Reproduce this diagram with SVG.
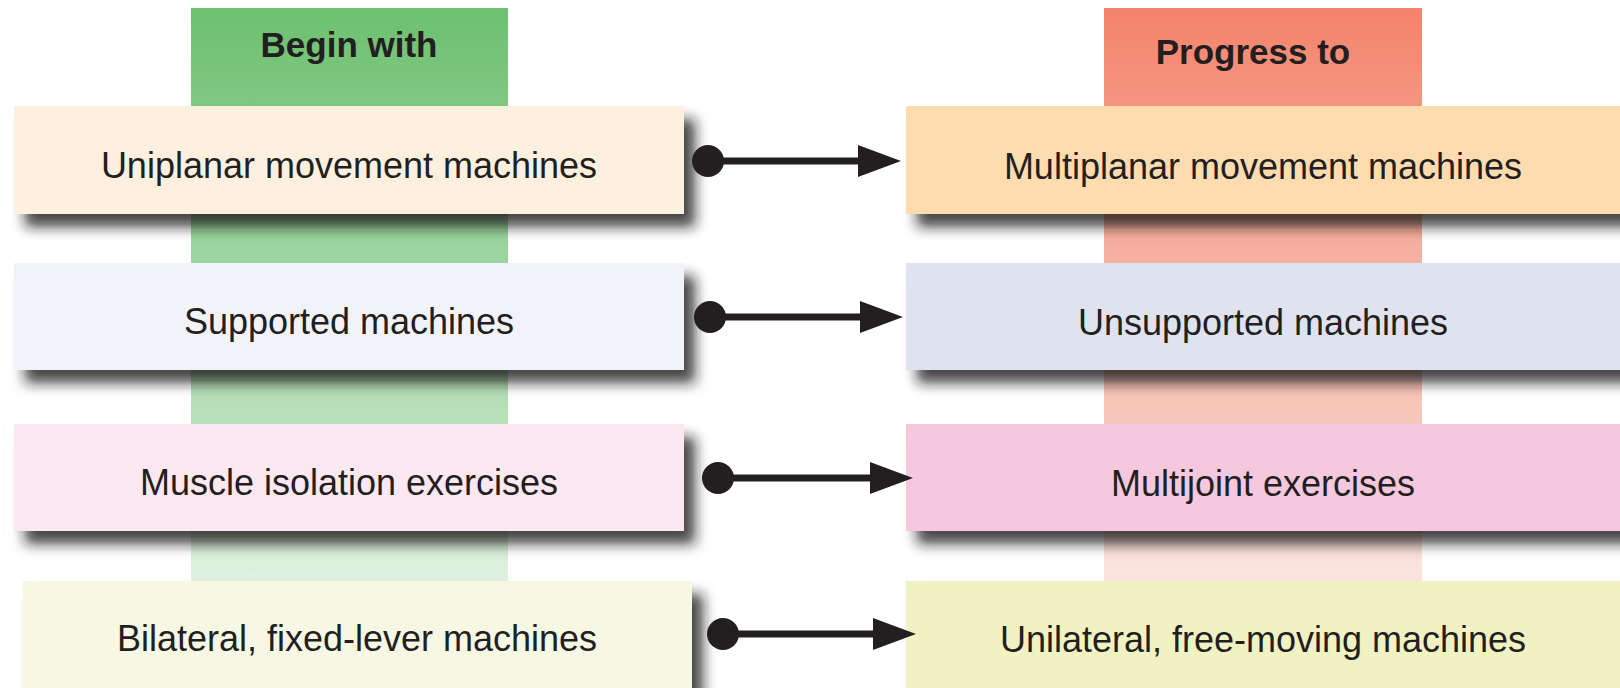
<svg xmlns="http://www.w3.org/2000/svg" width="1620" height="688" viewBox="0 0 1620 688">
<style>
  .lbl { font-family: "Liberation Sans", Arial, Helvetica, sans-serif; font-size: 36px; fill: #231f20; text-anchor: middle; }
  .hdr { font-family: "Liberation Sans", Arial, Helvetica, sans-serif; font-size: 35px; font-weight: bold; fill: #231f20; text-anchor: middle; }
  .box { filter: url(#sh); }
  .conn { stroke: #231f20; stroke-width: 7; fill: none; marker-start: url(#dot); marker-end: url(#tri); }
</style>
<defs>
  <linearGradient id="gGreen" x1="0" y1="0" x2="0" y2="1">
    <stop offset="0" stop-color="#6cc06f"/>
    <stop offset="0.4" stop-color="#9ad39c"/>
    <stop offset="0.75" stop-color="#bce2bd"/>
    <stop offset="1" stop-color="#e2f2e2"/>
  </linearGradient>
  <linearGradient id="gRed" x1="0" y1="0" x2="0" y2="1">
    <stop offset="0" stop-color="#f4836b"/>
    <stop offset="0.4" stop-color="#f5ae9e"/>
    <stop offset="0.75" stop-color="#f8cabe"/>
    <stop offset="1" stop-color="#fbe6e1"/>
  </linearGradient>
  <filter id="sh" x="-5%" y="-25%" width="115%" height="170%">
    <feDropShadow dx="11" dy="13" stdDeviation="6.5" flood-color="#1a1a1a" flood-opacity="0.8"/>
  </filter>
  <marker id="dot" markerUnits="userSpaceOnUse" markerWidth="34" markerHeight="34" viewBox="0 0 34 34" refX="17" refY="17" orient="auto">
    <circle cx="17" cy="17" r="16" fill="#231f20"/>
  </marker>
  <marker id="tri" markerUnits="userSpaceOnUse" markerWidth="44" markerHeight="32" viewBox="0 0 44 32" refX="1" refY="16" orient="auto">
    <path d="M0,0 L43,16 L0,32 Z" fill="#231f20"/>
  </marker>
</defs>
<rect width="1620" height="688" fill="#ffffff"/>

<g id="col-begin">
  <rect x="191" y="8" width="317" height="580" fill="url(#gGreen)"/>
  <text class="hdr" x="349" y="57">Begin with</text>
</g>
<g id="col-progress">
  <rect x="1104" y="8" width="318" height="580" fill="url(#gRed)"/>
  <text class="hdr" x="1253" y="64">Progress to</text>
</g>

<g id="node-uniplanar">
  <rect class="box" x="14" y="106" width="670" height="108" fill="#fdf0de"/>
  <text class="lbl" x="349" y="178">Uniplanar movement machines</text>
</g>
<g id="node-supported">
  <rect class="box" x="14" y="263" width="670" height="107" fill="#f1f3f9"/>
  <text class="lbl" x="349" y="334">Supported machines</text>
</g>
<g id="node-isolation">
  <rect class="box" x="14" y="424" width="670" height="107" fill="#fbe8f1"/>
  <text class="lbl" x="349" y="495">Muscle isolation exercises</text>
</g>
<g id="node-bilateral">
  <rect class="box" x="23" y="581" width="669" height="110" fill="#f6f8e4"/>
  <text class="lbl" x="357" y="651">Bilateral, fixed-lever machines</text>
</g>

<g id="node-multiplanar">
  <rect class="box" x="906" y="106" width="720" height="108" fill="#fedcaf"/>
  <text class="lbl" x="1263" y="179">Multiplanar movement machines</text>
</g>
<g id="node-unsupported">
  <rect class="box" x="906" y="263" width="720" height="107" fill="#dfe3ef"/>
  <text class="lbl" x="1263" y="335">Unsupported machines</text>
</g>
<g id="node-multijoint">
  <rect class="box" x="906" y="424" width="720" height="107" fill="#f5c8de"/>
  <text class="lbl" x="1263" y="496">Multijoint exercises</text>
</g>
<g id="node-unilateral">
  <rect class="box" x="906" y="581" width="720" height="110" fill="#f1f2c4"/>
  <text class="lbl" x="1263" y="652">Unilateral, free-moving machines</text>
</g>

<g id="connectors">
  <line class="conn" x1="708" y1="161" x2="859" y2="161"/>
  <line class="conn" x1="710" y1="317" x2="861" y2="317"/>
  <line class="conn" x1="718" y1="478" x2="871" y2="478"/>
  <line class="conn" x1="723" y1="634" x2="874" y2="634"/>
</g>
</svg>
